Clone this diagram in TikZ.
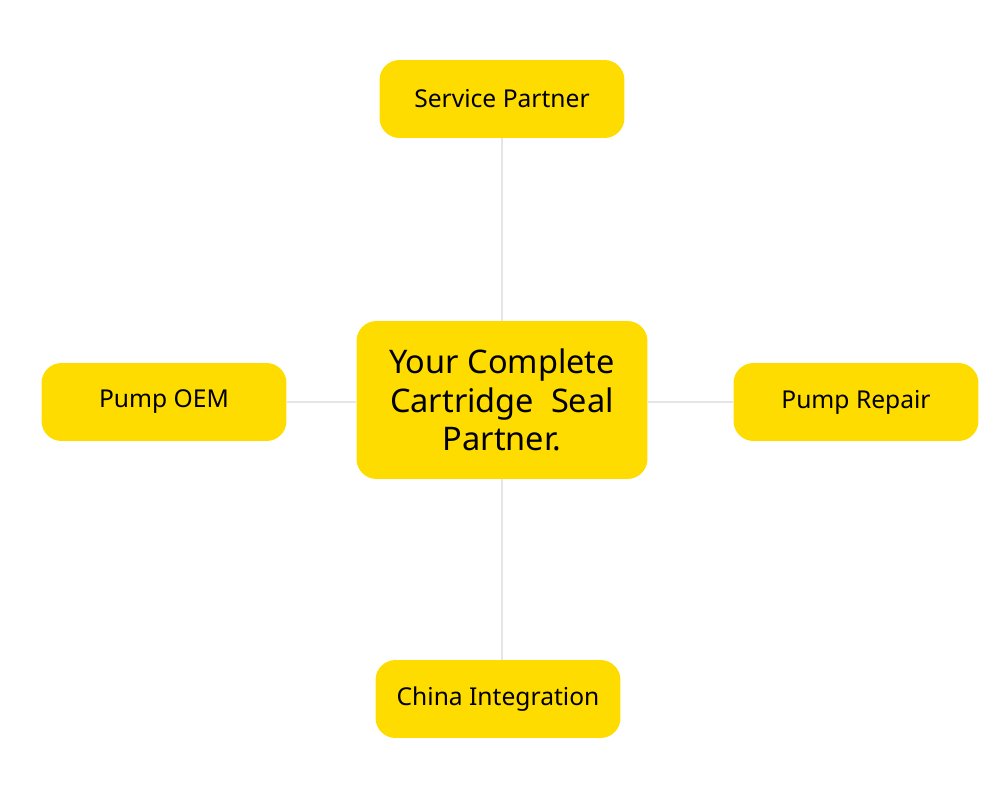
\documentclass[tikz,border=0pt]{standalone}
\usepackage{fontspec}
\setmainfont{Noto Sans}
\definecolor{sealyellow}{HTML}{FFDC00}
\begin{document}
\begin{tikzpicture}[x=0.02cm, y=-0.02cm,
smallbox/.style={rectangle, rounded corners=4mm, fill=sealyellow, minimum width=4.9cm, minimum height=1.56cm, font=\bfseries\fontsize{14}{16}\selectfont},
bigbox/.style={rectangle, rounded corners=4mm, fill=sealyellow, minimum width=5.82cm, minimum height=3.16cm, align=center, font=\bfseries\fontsize{18.5}{22}\selectfont},
link/.style={draw=black!10, line width=0.6pt},
]
\useasboundingbox (0,0) rectangle (1000,800);
%Nodes
\node[bigbox]   (Partner)  at (502,400) {Your Complete\\Cartridge\ \ Seal\\Partner.};
\node[smallbox] (Service)  at (502,99)  {Service Partner};
\node[smallbox] (OEM)      at (164,402) {Pump OEM};
\node[smallbox] (Repair)   at (856,402) {Pump Repair};
\node[smallbox] (China)    at (498,699) {China Integration};

%Lines
\begin{scope}[on background layer/.style={}]
\end{scope}
\draw[link] (Service.south -| Partner.center) -- (Partner.north -| Partner.center);
\draw[link] (Partner.south -| Partner.center) -- (China.north -| Partner.center);
\draw[link] (OEM.east) -- (Partner.west |- OEM.east);
\draw[link] (Partner.east |- Repair.west) -- (Repair.west);
\end{tikzpicture}
\end{document}
